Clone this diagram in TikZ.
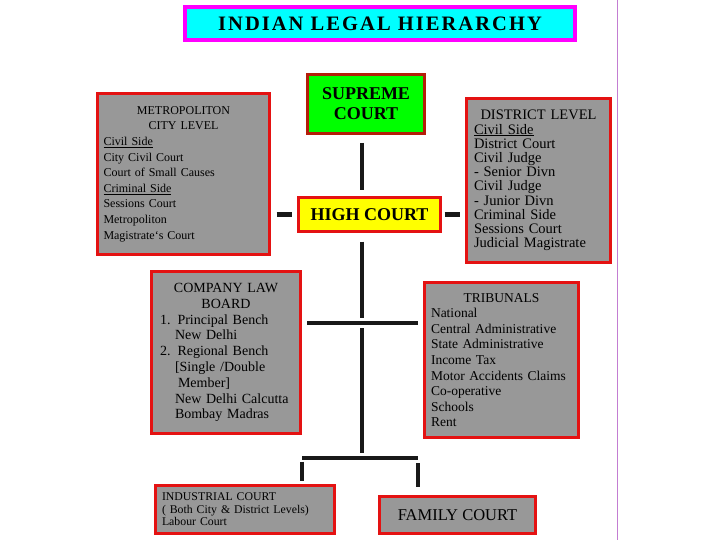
\documentclass[tikz,border=0pt]{standalone}
\usepackage{fontspec}
\setmainfont{Liberation Serif}
\newfontfamily\titlefont[LetterSpace=10]{Liberation Serif}
\usepackage{xcolor}
\usetikzlibrary{positioning}

\definecolor{boxgray}{RGB}{152,152,152}
\definecolor{boxred}{RGB}{228,18,18}
\definecolor{darkred}{RGB}{180,30,10}
\definecolor{sideline}{RGB}{195,125,210}
\definecolor{titlecyan}{RGB}{0,255,255}
\definecolor{titlemag}{RGB}{255,0,255}
\definecolor{courtgreen}{RGB}{0,255,0}
\definecolor{courtyellow}{RGB}{255,255,0}
\newcommand{\hdr}[1]{\makebox[\hsize]{#1}}

\begin{document}
\begin{tikzpicture}[x=1pt, y=-1pt,
      conn/.style={line width=4.5pt, black!90},
      infobox/.style={rectangle, draw=boxred, line width=3pt, fill=boxgray,
          align=left, inner ysep=3pt},
      courtbox/.style={rectangle, draw=boxred, line width=3pt, align=center,
          font=\fontsize{18}{20}\selectfont\bfseries, inner sep=0pt},
    ]
    \useasboundingbox (0,0) rectangle (720,540);

    %% ── TITLE ───────────────────────────────────────────────────────────────
    \node[draw=titlemag, line width=4pt, fill=titlecyan, minimum width=390pt,
      minimum height=33pt, inner sep=0pt,
      font=\titlefont\bfseries\fontsize{20.5}{22}\selectfont] at (380, 23.5) (title)
    {INDIAN LEGAL HIERARCHY};
    \draw[sideline, line width=1pt] (617,0) -- (617,540);

    %% ── TOP COURTS ──────────────────────────────────────────────────────────
    \node[courtbox, draw=darkred, fill=courtgreen, minimum width=117pt,
      minimum height=59pt] at (366, 104) (supreme)
    {SUPREME\\COURT};
    \node[courtbox, fill=courtyellow, minimum width=142pt,
      minimum height=34pt] at (369.5, 214.5) (high)
    {HIGH COURT};

    %% ── CITY / DISTRICT ─────────────────────────────────────────────────────
    \node[infobox, inner xsep=6pt, text width=160pt, minimum height=161pt,
      font=\fontsize{12}{15.6}\selectfont] at (183.5, 174) (metro)
    {\hdr{METROPOLITON}\\ \hdr{CITY LEVEL}\\
    \underline{Civil Side}\\ City Civil Court\\ Court of Small Causes\\
    \underline{Criminal Side}\\ Sessions Court\\ Metropoliton\\
    Magistrate`s Court};
    \node[infobox, inner xsep=7.5pt, text width=129pt, minimum height=164pt,
      font=\fontsize{14.5}{14.2}\selectfont] at (538.5, 180.5) (district)
    {\hdr{DISTRICT LEVEL}\\ \underline{Civil Side}\\ District Court\\
    Civil Judge\\ - Senior Divn\\ Civil Judge\\ - Junior Divn\\
    Criminal Side\\ Sessions Court\\ Judicial Magistrate};

    %% ── BOARD / TRIBUNALS ───────────────────────────────────────────────────
    \node[infobox, inner xsep=8.5pt, text width=132pt, minimum height=162pt,
      font=\fontsize{14}{15.8}\selectfont] at (226, 352.5) (board)
    {\hdr{COMPANY LAW}\\ \hdr{BOARD}\\ 1. Principal Bench\\
    \hspace*{15pt}New Delhi\\ 2. Regional Bench\\
    \hspace*{15pt}[Single /Double\\ \hspace*{18pt}Member]\\
    \hspace*{15pt}New Delhi Calcutta\\ \hspace*{15pt}Bombay Madras};
    \node[infobox, inner xsep=6.5pt, text width=141pt, minimum height=155pt,
      font=\fontsize{13.5}{15.6}\selectfont] at (501.5, 360) (tribunal)
    {\hdr{TRIBUNALS}\\ National\\ Central Administrative\\
    State Administrative\\ Income Tax\\ Motor Accidents Claims\\
    Co-operative\\ Schools\\ Rent};

    %% ── LOWER COURTS ────────────────────────────────────────────────────────
    \node[infobox, inner xsep=6.5pt, text width=166pt, minimum height=48pt,
      font=\fontsize{11.8}{12.5}\selectfont] at (245, 509.5) (indust)
    {INDUSTRIAL COURT\\ ( Both City \& District Levels)\\ Labour Court};
    \node[infobox, align=center, inner sep=0pt, minimum width=156pt,
      minimum height=37pt, font=\fontsize{16.5}{18}\selectfont]
      at (457.5, 515) (family)
    {FAMILY COURT};

    %% ── CONNECTORS ──────────────────────────────────────────────────────────
    \coordinate (midT) at (362, 323);
    \coordinate (midL) at (307, 323);
    \coordinate (midR) at (418, 323);
    \coordinate (botT) at (362, 458);
    \coordinate (botL) at (302, 458);
    \coordinate (botR) at (418, 458);

    \draw[conn, shorten <=8pt, shorten >=6pt]
      (midT |- supreme.south) -- (midT |- high.north);
    \draw[conn, shorten <=5.5pt, shorten >=5.5pt]
      (metro.east |- high.west) -- (high.west);
    \draw[conn, shorten <=2.5pt, shorten >=5.5pt]
      (high.east) -- (district.west |- high.east);
    \draw[conn, shorten <=8.5pt, shorten >=5pt] (midT |- high.south) -- (midT);
    \draw[conn] (midL) -- (midR);
    \draw[conn, shorten <=5pt, shorten >=5.5pt] (midT) -- (botT);
    \draw[conn] (botL) -- (botR);
    \draw[conn, shorten <=3.5pt, shorten >=3pt] (botL) -- (botL |- indust.north);
    \draw[conn, shorten <=5pt, shorten >=8.5pt] (botR) -- (botR |- family.north);

  \end{tikzpicture}
\end{document}
